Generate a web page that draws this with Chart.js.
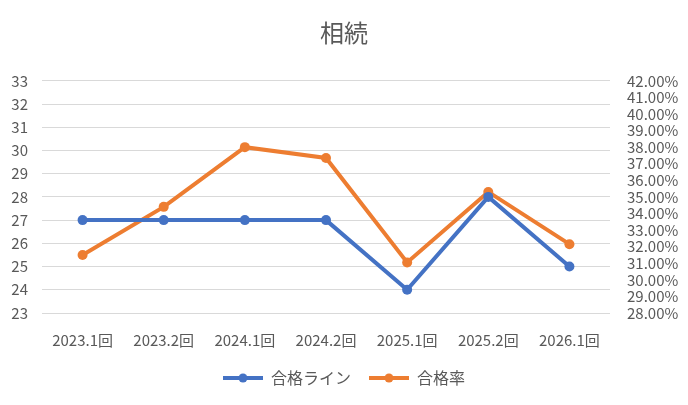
<!DOCTYPE html>
<html><head><meta charset="utf-8">
<script src="https://cdn.jsdelivr.net/npm/chart.js@4"></script>
<style>html,body{margin:0;padding:0;background:#fff}#wrap{width:688px;height:405px}</style>
</head><body><div id="wrap"><canvas id="c"></canvas></div>
<script>
const categories = ['2023.1回','2023.2回','2024.1回','2024.2回','2025.1回','2025.2回','2026.1回'];
const passLine = [27, 27, 27, 27, 24, 28, 25];
const passRate = [0.315, 0.344, 0.380, 0.3735, 0.3105, 0.353, 0.3215];
const titleText = '相続';
const seriesNames = ['合格ライン', '合格率'];

const FONT = '"Noto Sans CJK JP", "Noto Sans", sans-serif';
const GRAY = '#595959';
const BLUE = '#4472C4', ORANGE = '#ED7D31';

function legendIcon(color){
  const c = document.createElement('canvas'); c.width = 40; c.height = 10;
  const g = c.getContext('2d');
  g.strokeStyle = color; g.lineWidth = 4;
  g.beginPath(); g.moveTo(0,5); g.lineTo(40,5); g.stroke();
  g.fillStyle = color; g.beginPath(); g.arc(20,5,4.5,0,Math.PI*2); g.fill();
  return c;
}

new Chart(document.getElementById('c'), {
  type: 'line',
  data: {
    labels: categories,
    datasets: [
      {label: seriesNames[0], data: passLine, yAxisID: 'y', borderColor: BLUE, backgroundColor: BLUE,
       borderWidth: 4, pointRadius: 5, pointBorderWidth: 0, pointHoverRadius: 5, tension: 0, pointStyle: 'circle'},
      {label: seriesNames[1], data: passRate, yAxisID: 'y1', borderColor: ORANGE, backgroundColor: ORANGE,
       borderWidth: 4, pointRadius: 5, pointBorderWidth: 0, pointHoverRadius: 5, tension: 0, pointStyle: 'circle'}
    ]
  },
  options: {
    responsive: true, maintainAspectRatio: false, animation: false,
    layout: {padding: {left: 0, right: 0, top: 0, bottom: 9}},
    plugins: {
      title: {display: true, text: titleText, color: GRAY,
        font: {family: FONT, size: 24, weight: 'normal'}, padding: {top: 18, bottom: 34}},
      legend: {position: 'bottom',
        labels: {font: {family: FONT, size: 16}, color: GRAY, usePointStyle: true, pointStyleWidth: 40, padding: 18,
          generateLabels: (chart) => chart.data.datasets.map((ds, i) => ({
            text: ds.label, pointStyle: legendIcon(ds.borderColor), fillStyle: ds.borderColor,
            strokeStyle: ds.borderColor, lineWidth: 0, datasetIndex: i, fontColor: GRAY, hidden: false
          }))
        }},
      tooltip: {enabled: false}
    },
    scales: {
      x: {offset: true, grid: {display: false, offset: true}, border: {display: false},
        ticks: {font: {family: FONT, size: 15}, color: GRAY, padding: 10, maxRotation: 0, autoSkip: false},
        afterFit: (s) => { s.height = 39; }},
      y: {position: 'left', min: 23, max: 33,
        ticks: {stepSize: 1, font: {family: FONT, size: 15}, color: GRAY, padding: 14, autoSkip: false},
        grid: {color: '#d9d9d9', lineWidth: 1, drawTicks: false}, border: {display: false},
        afterFit: (s) => { s.width = 42; }},
      y1: {position: 'right', min: 0.28, max: 0.42,
        ticks: {stepSize: 0.01, font: {family: FONT, size: 15}, color: GRAY, padding: 17, autoSkip: false,
          callback: (v) => (v*100).toFixed(2) + '%'},
        grid: {drawOnChartArea: false, drawTicks: false}, border: {display: false},
        afterFit: (s) => { s.width = 78; }}
    }
  }
});
</script></body></html>
